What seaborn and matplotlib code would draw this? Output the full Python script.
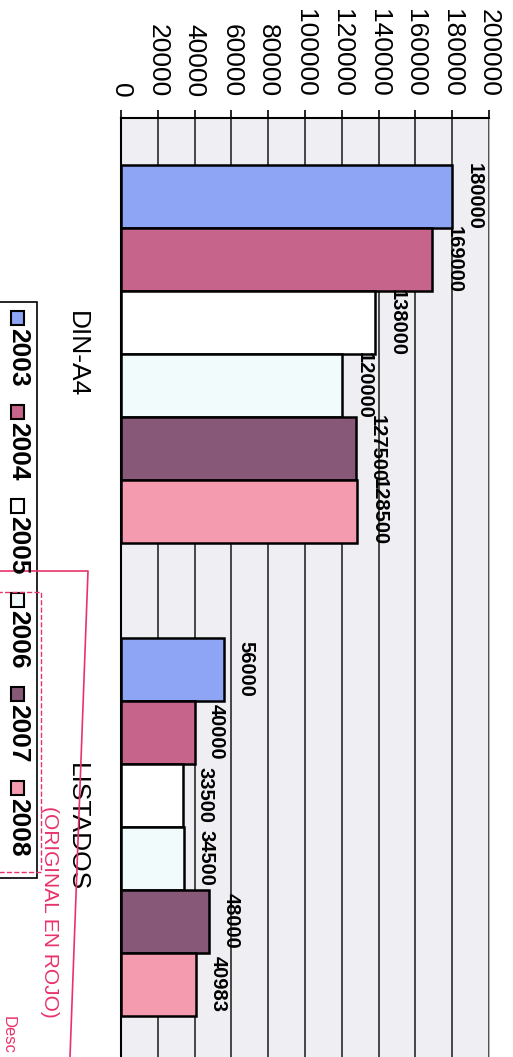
import numpy as np
import pandas as pd
import matplotlib
matplotlib.use("Agg")
import matplotlib.pyplot as plt
import seaborn as sns
from matplotlib.patches import Rectangle
from matplotlib.lines import Line2D

# datos
tipos = ["DIN-A4", "LISTADOS"]
anios = ["2003", "2004", "2005", "2006", "2007", "2008"]
din_a4 = [180000, 169000, 138000, 120000, 127500, 128500]
listados = [56000, 40000, 33500, 34500, 48000, 40983]
colores = ["#8ea4f4", "#c7648c", "#ffffff", "#f1fbfb", "#875878", "#f59bb0"]
ticks = [0, 20000, 40000, 60000, 80000, 100000, 120000, 140000, 160000, 180000, 200000]

df = pd.DataFrame({
    "tipo": ["DIN-A4"] * len(anios) + ["LISTADOS"] * len(anios),
    "anio": anios + anios,
    "valor": din_a4 + listados,
})

sns.set_style("white")
plt.rcParams["font.family"] = ["Liberation Sans", "DejaVu Sans"]
plt.rcParams["text.color"] = "black"
plt.rcParams["xtick.color"] = "black"
plt.rcParams["ytick.color"] = "black"
plt.rcParams["xtick.labelcolor"] = "black"
plt.rcParams["ytick.labelcolor"] = "black"

W, H = 513, 1057
fig = plt.figure(figsize=(W / 100, H / 100), dpi=100)


def fx(x):
    return x / W


def fy(y):
    return 1 - y / H


ax = fig.add_axes([fx(121), fy(1063), (489 - 121) / W, (1063 - 118) / H])
sns.barplot(data=df, x="valor", y="tipo", hue="anio", orient="h",
            order=tipos, hue_order=anios, palette=colores, saturation=1,
            edgecolor="black", linewidth=1.8, legend=False, ax=ax)

ax.set_xlim(0, 200000)
ax.set_ylim(1.5, -0.5)
ax.set_facecolor("#efeff3")
ax.xaxis.tick_top()
ax.set_xticks(ticks)
ax.set_xticklabels([str(t) for t in ticks], rotation=270, fontsize=19)
ax.tick_params(axis="x", direction="out", length=6, width=1.2, pad=9,
               top=True, bottom=False, colors="black")
ax.set_xlabel("")
ax.set_ylabel("")
ax.tick_params(axis="y", length=0, pad=23, colors="black")
for lab in ax.get_yticklabels():
    lab.set_rotation(270)
    lab.set_fontsize(19)
    lab.set_va("center")
ax.grid(axis="x", color="#2a2a2a", lw=1.2)
ax.set_axisbelow(True)

for s in ["top", "left"]:
    ax.spines[s].set_color("black")
    ax.spines[s].set_linewidth(1.5)
ax.spines["right"].set_color("#bbbbbb")
ax.spines["bottom"].set_visible(False)

for cont in ax.containers:
    ax.bar_label(cont, fmt="{:.0f}", padding=9, rotation=270,
                 fontsize=14.5, fontweight="bold", color="black")

# leyenda (girada como en el escaneo)
fig.patches.append(Rectangle((fx(-2), fy(878)), 39 / W, (878 - 302) / H,
                             transform=fig.transFigure, fill=False,
                             edgecolor="black", lw=1.2))
for i, (a, c) in enumerate(zip(anios, colores)):
    yc = 318 + i * 94
    fig.patches.append(Rectangle((fx(11), fy(yc + 7)), 13 / W, 14 / H,
                                 transform=fig.transFigure, facecolor=c,
                                 edgecolor="black", lw=1.5))
    fig.text(fx(18), fy(yc + 10), a, rotation=270, ha="center", va="top",
             fontsize=19, fontweight="bold")

# sello rojo
rojo = "#e8336a"
fig.add_artist(Line2D([fx(0), fx(88), fx(70)], [fy(571), fy(571), fy(1057)],
                      transform=fig.transFigure, color=rojo, lw=1.2))
fig.patches.append(Rectangle((fx(-2), fy(872)), 43 / W, (872 - 592) / H,
                             transform=fig.transFigure, fill=False,
                             edgecolor=rojo, ls="--", lw=1))
fig.text(fx(49), fy(806), "(ORIGINAL EN ROJO)", rotation=270, ha="center",
         va="top", fontsize=15, color=rojo, fontweight="light")
fig.text(fx(8), fy(1016), "Desc", rotation=270, ha="center", va="top",
         fontsize=12, color=rojo)

fig.savefig("out.png", dpi=100)
